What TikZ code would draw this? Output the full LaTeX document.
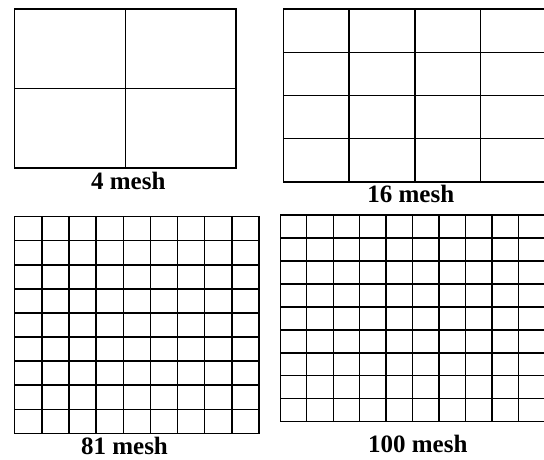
\documentclass[tikz,border=0pt]{standalone}
\usepackage{fontspec}
\setmainfont{Liberation Serif}
\usepackage{tikz}
\usetikzlibrary{calc}
\tikzset{
  meshline/.style={draw=black, line width=1.4pt, line cap=rect},
  meshlabel/.style={font=\fontsize{25}{25}\selectfont\bfseries, anchor=base, inner sep=0pt, text depth=0pt}
}
\begin{document}
\begin{tikzpicture}[x=1pt, y=-1pt]
  \useasboundingbox (0,0) rectangle (544,459);
  \clip (0,0) rectangle (544,459);
  % 4 mesh (2 x 2)
  \foreach \k in {0,...,2} {
    \draw[meshline] ({14.7+\k*110.65},9) -- ({14.7+\k*110.65},168);
    \draw[meshline] (14.7,{9+\k*79.5}) -- (236,{9+\k*79.5});
  }
  % 16 mesh (4 x 4), right side cut by the page
  \foreach \k in {0,...,4} {
    \draw[meshline] ({283.3+\k*65.8},9) -- ({283.3+\k*65.8},182);
    \draw[meshline] (283.3,{9+\k*43.25}) -- (546.5,{9+\k*43.25});
  }
  % 81 mesh (9 x 9)
  \foreach \k in {0,...,9} {
    \draw[meshline] ({14.7+\k*27.15},216.7) -- ({14.7+\k*27.15},433.3);
    \draw[meshline] (14.7,{216.7+\k*24.07}) -- (259,{216.7+\k*24.07});
  }
  % 100 mesh, right side cut by the page
  \foreach \k in {0,...,10} {
    \draw[meshline] ({280.3+\k*26.45},215) -- ({280.3+\k*26.45},421.7);
  }
  \foreach \k in {0,...,9} {
    \draw[meshline] (280.3,{215+\k*22.97}) -- (544.8,{215+\k*22.97});
  }
  % labels
  \node[meshlabel] (lab4) at (128.3,189) {4 mesh};
  \node[meshlabel] (lab16) at (410.8,202.5) {16 mesh};
  \node[meshlabel] (lab81) at (124.5,454) {81 mesh};
  \node[meshlabel] (lab100) at (417.8,452.5) {100 mesh};
\end{tikzpicture}
\end{document}
